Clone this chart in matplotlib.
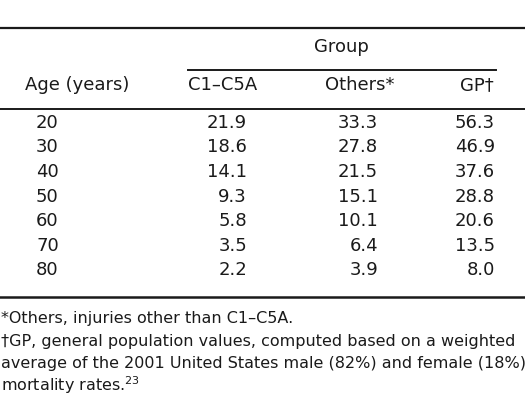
import matplotlib
matplotlib.use("Agg")
import matplotlib.pyplot as plt

# --- table data ---
ages = ["20", "30", "40", "50", "60", "70", "80"]
c1_c5a = ["21.9", "18.6", "14.1", "9.3", "5.8", "3.5", "2.2"]
others = ["33.3", "27.8", "21.5", "15.1", "10.1", "6.4", "3.9"]
gp = ["56.3", "46.9", "37.6", "28.8", "20.6", "13.5", "8.0"]
col_headers = ["C1\u2013C5A", "Others*", "GP\u2020"]
footnotes = [
    "*Others, injuries other than C1\u2013C5A.",
    "\u2020GP, general population values, computed based on a weighted",
    "average of the 2001 United States male (82%) and female (18%)",
    "mortality rates.$^{23}$",
]

plt.rcParams['font.family'] = ['DejaVu Sans']

W, H = 525, 417
fig = plt.figure(figsize=(W / 100, H / 100), dpi=100)
ax = fig.add_axes([0, 0, 1, 1])
ax.set_xlim(0, W)
ax.set_ylim(H, 0)
ax.axis('off')

fs = 13
fs_note = 11.5
txt = '#1a1a1a'

# rules
ax.plot([0, W], [28, 28], color=txt, lw=1.6)
ax.plot([188, 496], [70, 70], color=txt, lw=1.4)
ax.plot([0, W], [108.5, 108.5], color=txt, lw=1.4)
ax.plot([0, W], [297, 297], color=txt, lw=1.8)

# header
ax.text(341, 52, "Group", ha='center', va='baseline', fontsize=fs, color=txt)
ax.text(25, 90, "Age (years)", ha='left', va='baseline', fontsize=fs, color=txt)
ax.text(188, 90, col_headers[0], ha='left', va='baseline', fontsize=fs, color=txt)
ax.text(325, 90, col_headers[1], ha='left', va='baseline', fontsize=fs, color=txt)
ax.text(494, 90, col_headers[2], ha='right', va='baseline', fontsize=fs, color=txt)

# body
row_y0, row_dy = 128, 24.5
for i in range(len(ages)):
    y = row_y0 + i * row_dy
    ax.text(36, y, ages[i], ha='left', va='baseline', fontsize=fs, color=txt)
    ax.text(247, y, c1_c5a[i], ha='right', va='baseline', fontsize=fs, color=txt)
    ax.text(378, y, others[i], ha='right', va='baseline', fontsize=fs, color=txt)
    ax.text(495, y, gp[i], ha='right', va='baseline', fontsize=fs, color=txt)

# footnotes
for i, line in enumerate(footnotes):
    ax.text(1, 323 + i * 22.6, line, ha='left', va='baseline', fontsize=fs_note, color=txt)

fig.savefig("out.png", dpi=100)
